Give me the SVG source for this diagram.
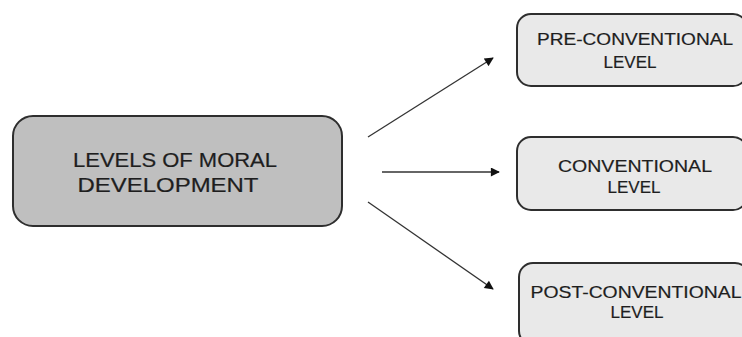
<svg xmlns="http://www.w3.org/2000/svg" width="742" height="337" viewBox="0 0 742 337">
  <style>
    .box { stroke: #2e2e2e; stroke-width: 2; }
    .main { fill: #bfbfbf; }
    .level { fill: #e9e9e9; }
    .label { font-family: "Liberation Sans", "Open Sans", sans-serif; fill: #1e1e1e; stroke: #1e1e1e; stroke-width: 0.2; text-anchor: middle; }
    .big { font-size: 19.5px; }
    .small { font-size: 17px; }
    .conn { stroke: #333; stroke-width: 1.3; fill: none; marker-end: url(#arrow); }
  </style>
  <defs>
    <marker id="arrow" viewBox="0 0 10 10" refX="9" refY="5" markerWidth="11" markerHeight="9" markerUnits="userSpaceOnUse" orient="auto">
      <path d="M0,0 L10,5 L0,10 z" fill="#111"/>
    </marker>
  </defs>

  <g id="levels-of-moral-development">
    <rect class="box main" x="13" y="116" width="329" height="110" rx="20"/>
    <text class="label big" x="175" y="167" textLength="204" lengthAdjust="spacingAndGlyphs">LEVELS OF MORAL</text>
    <text class="label big" x="168" y="192" textLength="181" lengthAdjust="spacingAndGlyphs">DEVELOPMENT</text>
  </g>

  <g id="pre-conventional">
    <rect class="box level" x="517" y="14" width="230" height="72" rx="14"/>
    <text class="label small" x="635" y="45" textLength="196" lengthAdjust="spacingAndGlyphs">PRE-CONVENTIONAL</text>
    <text class="label small" x="630" y="68">LEVEL</text>
  </g>

  <g id="conventional">
    <rect class="box level" x="517" y="137" width="230" height="73" rx="14"/>
    <text class="label small" x="635" y="172" textLength="154" lengthAdjust="spacingAndGlyphs">CONVENTIONAL</text>
    <text class="label small" x="634" y="193">LEVEL</text>
  </g>

  <g id="post-conventional">
    <rect class="box level" x="519" y="263" width="230" height="82" rx="14"/>
    <text class="label small" x="636" y="298" textLength="211" lengthAdjust="spacingAndGlyphs">POST-CONVENTIONAL</text>
    <text class="label small" x="637" y="318">LEVEL</text>
  </g>

  <g id="connectors">
    <line class="conn" x1="368" y1="137" x2="493" y2="58"/>
    <line class="conn" x1="382" y1="172" x2="499" y2="172"/>
    <line class="conn" x1="368" y1="202" x2="493" y2="289"/>
  </g>
</svg>
